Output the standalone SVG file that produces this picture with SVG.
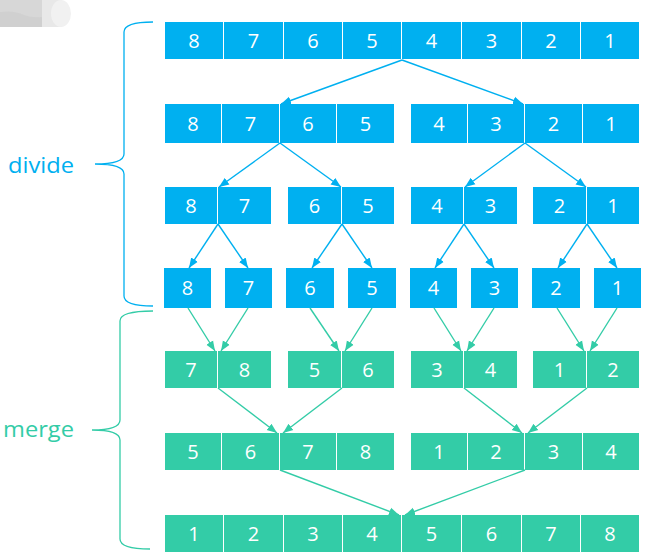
<svg xmlns="http://www.w3.org/2000/svg" width="646" height="559" viewBox="0 0 646 559">
<style>
.b{fill:#00B0F0}
.g{fill:#33CCA7}
.t{fill:#fff;font-family:"Open Sans","Noto Sans",sans-serif;font-size:20px;text-anchor:middle}
.cb{stroke:#00B0F0;stroke-width:1.4;fill:none;marker-end:url(#ab)}
.cg{stroke:#33CCA7;stroke-width:1.4;fill:none;marker-end:url(#ag)}
.lbl{font-family:"Open Sans","Noto Sans",sans-serif;font-size:22px}
</style>
<defs>
<marker id="ab" markerUnits="userSpaceOnUse" markerWidth="10" markerHeight="10" viewBox="0 0 10 8" refX="10" refY="4" orient="auto"><path d="M0,0 L10,4 L0,8 z" fill="#00B0F0"/></marker>
<marker id="ag" markerUnits="userSpaceOnUse" markerWidth="10" markerHeight="10" viewBox="0 0 10 8" refX="10" refY="4" orient="auto"><path d="M0,0 L10,4 L0,8 z" fill="#33CCA7"/></marker>
</defs>
<rect width="646" height="559" fill="#fff"/>
<g id="blob">
<rect x="0" y="0" width="42" height="27" fill="#d7d7d7"/>
<path d="M0,12 Q14,10 24,15 Q32,18 42,17 L42,27 L0,27 z" fill="#d0d0d0"/>
<rect x="42" y="0" width="20" height="27" fill="#e8e8e8"/>
<ellipse cx="61" cy="13.5" rx="10" ry="13.5" fill="#f1f1f1"/>
</g>
<g id="brace-divide"><path d="M153,22 Q124,22 124,32 L124,154 Q124,164 95,164 Q124,164 124,174 L124,296 Q124,306 153,306" fill="none" stroke="#00B0F0" stroke-width="1.3"/>
<text class="lbl" x="8" y="173" fill="#00B0F0" textLength="66" lengthAdjust="spacingAndGlyphs">divide</text></g>
<g id="brace-merge"><path d="M153,311 Q120,311 120,321 L120,420 Q120,430 92,430 Q120,430 120,440 L120,539 Q120,549 150,549" fill="none" stroke="#33CCA7" stroke-width="1.3"/>
<text class="lbl" x="3" y="437" fill="#33CCA7" textLength="71" lengthAdjust="spacingAndGlyphs">merge</text></g>
<g id="row1">
<rect class="b" x="165" y="22" width="58" height="37"/><text class="t" x="194" y="48">8</text>
<rect class="b" x="224" y="22" width="59" height="37"/><text class="t" x="253.5" y="48">7</text>
<rect class="b" x="284" y="22" width="58" height="37"/><text class="t" x="313" y="48">6</text>
<rect class="b" x="343" y="22" width="58" height="37"/><text class="t" x="372" y="48">5</text>
<rect class="b" x="402" y="22" width="59" height="37"/><text class="t" x="431.5" y="48">4</text>
<rect class="b" x="462" y="22" width="59" height="37"/><text class="t" x="491.5" y="48">3</text>
<rect class="b" x="522" y="22" width="58" height="37"/><text class="t" x="551" y="48">2</text>
<rect class="b" x="581" y="22" width="58" height="37"/><text class="t" x="610" y="48">1</text>
</g>
<g id="row2">
<rect class="b" x="165" y="104" width="56" height="39"/><text class="t" x="193" y="131">8</text>
<rect class="b" x="222" y="104" width="57" height="39"/><text class="t" x="250.5" y="131">7</text>
<rect class="b" x="280" y="104" width="56" height="39"/><text class="t" x="308" y="131">6</text>
<rect class="b" x="337" y="104" width="57" height="39"/><text class="t" x="365.5" y="131">5</text>
<rect class="b" x="411" y="104" width="56" height="39"/><text class="t" x="439" y="131">4</text>
<rect class="b" x="468" y="104" width="56" height="39"/><text class="t" x="496" y="131">3</text>
<rect class="b" x="525" y="104" width="57" height="39"/><text class="t" x="553.5" y="131">2</text>
<rect class="b" x="583" y="104" width="56" height="39"/><text class="t" x="611" y="131">1</text>
</g>
<g id="row3">
<rect class="b" x="165" y="187" width="52" height="37"/><text class="t" x="191" y="213">8</text>
<rect class="b" x="218" y="187" width="53" height="37"/><text class="t" x="244.5" y="213">7</text>
<rect class="b" x="288" y="187" width="53" height="37"/><text class="t" x="314.5" y="213">6</text>
<rect class="b" x="342" y="187" width="52" height="37"/><text class="t" x="368" y="213">5</text>
<rect class="b" x="411" y="187" width="52" height="37"/><text class="t" x="437" y="213">4</text>
<rect class="b" x="464" y="187" width="53" height="37"/><text class="t" x="490.5" y="213">3</text>
<rect class="b" x="533" y="187" width="53" height="37"/><text class="t" x="559.5" y="213">2</text>
<rect class="b" x="587" y="187" width="52" height="37"/><text class="t" x="613" y="213">1</text>
</g>
<g id="row4">
<rect class="b" x="164" y="268" width="47" height="40"/><text class="t" x="187.5" y="295">8</text>
<rect class="b" x="225" y="268" width="47" height="40"/><text class="t" x="248.5" y="295">7</text>
<rect class="b" x="286" y="268" width="48" height="40"/><text class="t" x="310" y="295">6</text>
<rect class="b" x="348" y="268" width="48" height="40"/><text class="t" x="372" y="295">5</text>
<rect class="b" x="410" y="268" width="47" height="40"/><text class="t" x="433.5" y="295">4</text>
<rect class="b" x="471" y="268" width="47" height="40"/><text class="t" x="494.5" y="295">3</text>
<rect class="b" x="532" y="268" width="48" height="40"/><text class="t" x="556" y="295">2</text>
<rect class="b" x="594" y="268" width="47" height="40"/><text class="t" x="617.5" y="295">1</text>
</g>
<g id="row5">
<rect class="g" x="165" y="351" width="52" height="37"/><text class="t" x="191" y="377">7</text>
<rect class="g" x="218" y="351" width="53" height="37"/><text class="t" x="244.5" y="377">8</text>
<rect class="g" x="288" y="351" width="53" height="37"/><text class="t" x="314.5" y="377">5</text>
<rect class="g" x="342" y="351" width="52" height="37"/><text class="t" x="368" y="377">6</text>
<rect class="g" x="411" y="351" width="52" height="37"/><text class="t" x="437" y="377">3</text>
<rect class="g" x="464" y="351" width="53" height="37"/><text class="t" x="490.5" y="377">4</text>
<rect class="g" x="533" y="351" width="53" height="37"/><text class="t" x="559.5" y="377">1</text>
<rect class="g" x="587" y="351" width="52" height="37"/><text class="t" x="613" y="377">2</text>
</g>
<g id="row6">
<rect class="g" x="165" y="433" width="56" height="37"/><text class="t" x="193" y="459">5</text>
<rect class="g" x="222" y="433" width="57" height="37"/><text class="t" x="250.5" y="459">6</text>
<rect class="g" x="280" y="433" width="56" height="37"/><text class="t" x="308" y="459">7</text>
<rect class="g" x="337" y="433" width="57" height="37"/><text class="t" x="365.5" y="459">8</text>
<rect class="g" x="411" y="433" width="56" height="37"/><text class="t" x="439" y="459">1</text>
<rect class="g" x="468" y="433" width="56" height="37"/><text class="t" x="496" y="459">2</text>
<rect class="g" x="525" y="433" width="57" height="37"/><text class="t" x="553.5" y="459">3</text>
<rect class="g" x="583" y="433" width="56" height="37"/><text class="t" x="611" y="459">4</text>
</g>
<g id="row7">
<rect class="g" x="165" y="515" width="58" height="37"/><text class="t" x="194" y="541">1</text>
<rect class="g" x="224" y="515" width="59" height="37"/><text class="t" x="253.5" y="541">2</text>
<rect class="g" x="284" y="515" width="58" height="37"/><text class="t" x="313" y="541">3</text>
<rect class="g" x="343" y="515" width="58" height="37"/><text class="t" x="372" y="541">4</text>
<rect class="g" x="402" y="515" width="59" height="37"/><text class="t" x="431.5" y="541">5</text>
<rect class="g" x="462" y="515" width="59" height="37"/><text class="t" x="491.5" y="541">6</text>
<rect class="g" x="522" y="515" width="58" height="37"/><text class="t" x="551" y="541">7</text>
<rect class="g" x="581" y="515" width="58" height="37"/><text class="t" x="610" y="541">8</text>
</g>
<g id="connectors">
<line class="cb" x1="402" y1="60" x2="281" y2="104"/>
<line class="cb" x1="402" y1="60" x2="523" y2="104"/>
<line class="cb" x1="280" y1="143" x2="219" y2="187"/>
<line class="cb" x1="280" y1="143" x2="341" y2="187"/>
<line class="cb" x1="525" y1="143" x2="465" y2="187"/>
<line class="cb" x1="525" y1="143" x2="586" y2="187"/>
<line class="cb" x1="218" y1="224" x2="189" y2="268"/>
<line class="cb" x1="218" y1="224" x2="248" y2="268"/>
<line class="cb" x1="342" y1="224" x2="312" y2="268"/>
<line class="cb" x1="342" y1="224" x2="372" y2="268"/>
<line class="cb" x1="464" y1="224" x2="435" y2="268"/>
<line class="cb" x1="464" y1="224" x2="494" y2="268"/>
<line class="cb" x1="587" y1="224" x2="558" y2="268"/>
<line class="cb" x1="587" y1="224" x2="617" y2="268"/>
<line class="cg" x1="188" y1="308" x2="215" y2="351"/>
<line class="cg" x1="248" y1="308" x2="221" y2="351"/>
<line class="cg" x1="310" y1="308" x2="339" y2="351"/>
<line class="cg" x1="372" y1="308" x2="345" y2="351"/>
<line class="cg" x1="434" y1="308" x2="461" y2="351"/>
<line class="cg" x1="494" y1="308" x2="467" y2="351"/>
<line class="cg" x1="557" y1="308" x2="584" y2="351"/>
<line class="cg" x1="617" y1="308" x2="590" y2="351"/>
<line class="cg" x1="218" y1="388" x2="277" y2="433"/>
<line class="cg" x1="342" y1="388" x2="283" y2="433"/>
<line class="cg" x1="464" y1="388" x2="522" y2="433"/>
<line class="cg" x1="587" y1="388" x2="528" y2="433"/>
<line class="cg" x1="280" y1="470" x2="399" y2="515"/>
<line class="cg" x1="525" y1="470" x2="405" y2="515"/>
</g>
</svg>
